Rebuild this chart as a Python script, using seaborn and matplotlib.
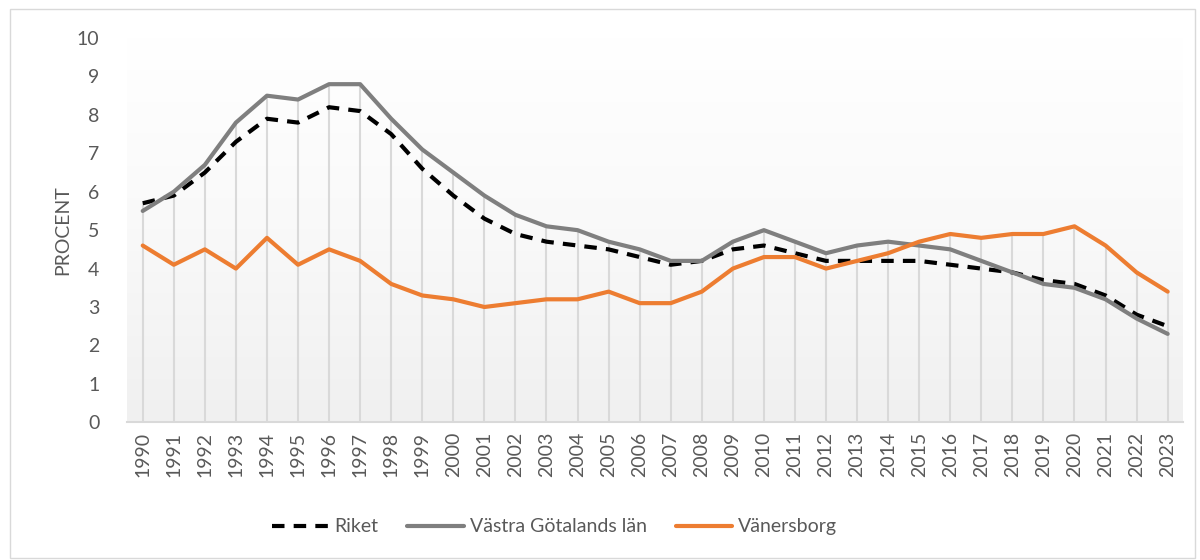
import numpy as np
import pandas as pd
import matplotlib
matplotlib.use('Agg')
import matplotlib.pyplot as plt
from matplotlib.patches import Rectangle
import seaborn as sns

years = list(range(1990, 2024))
riket = [5.7, 5.9, 6.5, 7.3, 7.9, 7.8, 8.2, 8.1, 7.5, 6.6,
         5.9, 5.3, 4.9, 4.7, 4.6, 4.5, 4.3, 4.1, 4.2, 4.5,
         4.6, 4.4, 4.2, 4.2, 4.2, 4.2, 4.1, 4.0, 3.9, 3.7,
         3.6, 3.3, 2.8, 2.5]
vgl = [5.5, 6.0, 6.7, 7.8, 8.5, 8.4, 8.8, 8.8, 7.9, 7.1,
       6.5, 5.9, 5.4, 5.1, 5.0, 4.7, 4.5, 4.2, 4.2, 4.7,
       5.0, 4.7, 4.4, 4.6, 4.7, 4.6, 4.5, 4.2, 3.9, 3.6,
       3.5, 3.2, 2.7, 2.3]
vanersborg = [4.6, 4.1, 4.5, 4.0, 4.8, 4.1, 4.5, 4.2, 3.6, 3.3,
              3.2, 3.0, 3.1, 3.2, 3.2, 3.4, 3.1, 3.1, 3.4, 4.0,
              4.3, 4.3, 4.0, 4.2, 4.4, 4.7, 4.9, 4.8, 4.9, 4.9,
              5.1, 4.6, 3.9, 3.4]
series_names = ['Riket', 'Västra Götalands län', 'Vänersborg']

df = pd.DataFrame({'År': years, 'Riket': riket,
                   'Västra Götalands län': vgl, 'Vänersborg': vanersborg})
long = df.melt(id_vars='År', var_name='Område', value_name='Procent')

sns.set_style('white')
plt.rcParams['font.family'] = ['Lato', 'DejaVu Sans']

fig = plt.figure(figsize=(12, 5.6), dpi=100)
ax = fig.add_axes([0.106, 0.246, 0.88, 0.686])

# chart border
fig.patches.append(Rectangle((0.008, 0.004), 0.988, 0.98, transform=fig.transFigure,
                             fill=False, edgecolor='#d9d9d9', linewidth=1))

# gradient plot area
grad = np.linspace(0, 1, 256).reshape(-1, 1)
cm = matplotlib.colors.LinearSegmentedColormap.from_list('g', ['#ffffff', '#f9f9f9', '#f0f0f0'])
ax.imshow(grad, extent=[0, 1, 0, 1], transform=ax.transAxes, aspect='auto',
          cmap=cm, origin='upper', zorder=0)

# drop lines
top = df[series_names].max(axis=1)
ax.vlines(df['År'], 0, top, color='#d9d9d9', linewidth=1.5, zorder=1)

palette = {'Riket': 'black', 'Västra Götalands län': '#7f7f7f', 'Vänersborg': '#ed7d31'}
dashes = {'Riket': (3, 2.2), 'Västra Götalands län': '', 'Vänersborg': ''}
sns.lineplot(data=long, x='År', y='Procent', hue='Område', style='Område',
             hue_order=series_names, style_order=series_names,
             palette=palette, dashes=dashes, linewidth=3, ax=ax, zorder=3)

ax.set_xlim(1989.5, 2023.5)
ax.set_ylim(0, 10)
ax.set_yticks(range(0, 11))
ax.set_xticks(years)
ax.set_xticklabels([str(y) for y in years], rotation=90)
ax.tick_params(axis='both', labelsize=14, colors='#595959', length=0)
ax.tick_params(axis='y', pad=20)
ax.tick_params(axis='x', pad=7)
ax.set_xlabel('')
ax.set_ylabel('PROCENT', fontsize=14, color='#595959', labelpad=4)

for s in ['top', 'right', 'left']:
    ax.spines[s].set_visible(False)
ax.spines['bottom'].set_color('#d9d9d9')
ax.spines['bottom'].set_linewidth(1.5)

handles, labels = ax.get_legend_handles_labels()
ax.legend(handles, labels, loc='center', bbox_to_anchor=(0.462, 0.059),
          bbox_transform=fig.transFigure,
          ncol=3, frameon=False, fontsize=14, labelcolor='#595959', handlelength=2.9,
          columnspacing=1.5, handletextpad=0.3)

fig.savefig('out.png', dpi=100)
